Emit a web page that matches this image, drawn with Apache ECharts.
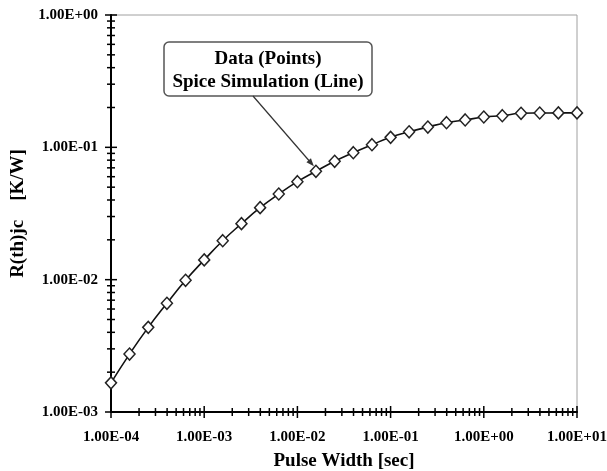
<!DOCTYPE html>
<html>
<head>
<meta charset="utf-8">
<script src="https://cdn.jsdelivr.net/npm/echarts@6/dist/echarts.min.js"></script>
<style>
  html, body { margin: 0; padding: 0; background: #fff; }
  #chart { width: 607px; height: 471px; }
</style>
</head>
<body>
<div id="chart"></div>
<script>
// pulse width [sec], 5 points per decade
const pulseWidth = [
  1.00e-4, 1.58e-4, 2.51e-4, 3.98e-4, 6.31e-4,
  1.00e-3, 1.58e-3, 2.51e-3, 3.98e-3, 6.31e-3,
  1.00e-2, 1.58e-2, 2.51e-2, 3.98e-2, 6.31e-2,
  1.00e-1, 1.58e-1, 2.51e-1, 3.98e-1, 6.31e-1,
  1.00e0, 1.58e0, 2.51e0, 3.98e0, 6.31e0,
  1.00e1
]
// R(th)jc [K/W]
const rthjc = [
  0.00166, 0.00274, 0.00436, 0.00663, 0.00989,
  0.0141, 0.0197, 0.0265, 0.0350, 0.0444,
  0.0550, 0.0659, 0.0784, 0.0911, 0.1047,
  0.119, 0.131, 0.1424, 0.1535, 0.161,
  0.1695, 0.1734, 0.1808, 0.1817, 0.182,
  0.182
]
const xTicks = [1e-4, 1e-3, 1e-2, 1e-1, 1e0, 1e1]
const yTicks = [1e-3, 1e-2, 1e-1, 1e0]
const noteLines = ['Data (Points)', 'Spice Simulation (Line)']
const arrowTarget = 11

const FONT = 'Liberation Serif'

// 1.00E-04 style labels
const sci = (v) => {
  const e = Math.round(Math.log10(v))
  const m = v / Math.pow(10, e)
  return m.toFixed(2) + 'E' + (e < 0 ? '-' : '+') + String(Math.abs(e)).padStart(2, '0')
}

const chart = echarts.init(document.getElementById('chart'))

const option = {
  animation: false,
  grid: {
    left: 111, right: 30, top: 15, bottom: 59,
    outerBoundsMode: 'none', containLabel: false,
    show: true, borderColor: '#a0a0a0', borderWidth: 1
  },
  xAxis: {
    type: 'log', logBase: 10,
    min: xTicks[0], max: xTicks[xTicks.length - 1],
    name: 'Pulse Width [sec]',
    nameLocation: 'middle', nameGap: 40,
    nameTextStyle: { fontFamily: FONT, fontWeight: 'bold', fontSize: 19, color: '#000' },
    axisLine: { lineStyle: { color: '#000', width: 2 } },
    axisTick: { show: false },
    splitLine: { show: false },
    axisLabel: {
      formatter: sci, margin: 18,
      fontFamily: FONT, fontWeight: 'bold', fontSize: 15, color: '#000'
    }
  },
  yAxis: {
    type: 'log', logBase: 10,
    min: yTicks[0], max: yTicks[yTicks.length - 1],
    name: 'R(th)jc    [K/W]',
    nameLocation: 'middle', nameGap: 81, nameRotate: 90,
    nameTextStyle: { fontFamily: FONT, fontWeight: 'bold', fontSize: 19, color: '#000' },
    axisLine: { lineStyle: { color: '#000', width: 2 } },
    axisTick: { show: false },
    splitLine: { show: false },
    axisLabel: {
      formatter: sci, margin: 13,
      fontFamily: FONT, fontWeight: 'bold', fontSize: 15, color: '#000'
    }
  },
  series: [{
    type: 'line',
    data: pulseWidth.map((x, i) => [x, rthjc[i]]),
    smooth: true,
    clip: false,
    symbol: 'diamond',
    symbolSize: [11, 12],
    lineStyle: { color: '#111', width: 1.6 },
    itemStyle: { color: '#fff', borderColor: '#222', borderWidth: 1.5 },
    z: 5
  }]
}
chart.setOption(option)

// ticks crossing the axes (major + 2..9 minor)
const tickGraphics = []
const addTicks = (majors, isX) => {
  const vals = []
  majors.forEach((d, i) => {
    vals.push([d, 6])
    if (i < majors.length - 1) {
      for (let m = 2; m <= 9; m++) vals.push([m * d, 4])
    }
  })
  vals.forEach(([v, len]) => {
    if (isX) {
      const p = chart.convertToPixel({ gridIndex: 0 }, [v, yTicks[0]])
      tickGraphics.push({ type: 'line', shape: { x1: p[0], y1: p[1] - len, x2: p[0], y2: p[1] + len },
        style: { stroke: '#000', lineWidth: 1.5 }, z: 3 })
    } else {
      const p = chart.convertToPixel({ gridIndex: 0 }, [xTicks[0], v])
      tickGraphics.push({ type: 'line', shape: { x1: p[0] - len, y1: p[1], x2: p[0] + len, y2: p[1] },
        style: { stroke: '#000', lineWidth: 1.5 }, z: 3 })
    }
  })
}
addTicks(xTicks, true)
addTicks(yTicks, false)

// note box + arrow
const box = { x: 164, y: 42, w: 208, h: 54 }
const tip = chart.convertToPixel({ seriesIndex: 0 }, [pulseWidth[arrowTarget], rthjc[arrowTarget]])
const start = [253, box.y + box.h]
const end = [tip[0] - 2, tip[1] - 5]
const ang = Math.atan2(end[1] - start[1], end[0] - start[0])
const ah = 8, aw = 3
const head = [
  end,
  [end[0] - ah * Math.cos(ang) + aw * Math.sin(ang), end[1] - ah * Math.sin(ang) - aw * Math.cos(ang)],
  [end[0] - ah * Math.cos(ang) - aw * Math.sin(ang), end[1] - ah * Math.sin(ang) + aw * Math.cos(ang)]
]

const noteGraphics = [
  { type: 'rect', shape: { x: box.x, y: box.y, width: box.w, height: box.h, r: 5 },
    style: { fill: '#fff', stroke: '#555', lineWidth: 1.5 }, z: 10 },
  { type: 'text', x: box.x + box.w / 2, y: box.y + 17, z: 11,
    style: { text: noteLines[0], align: 'center', verticalAlign: 'middle',
      font: 'bold 19px ' + FONT, fill: '#000' } },
  { type: 'text', x: box.x + box.w / 2, y: box.y + 40, z: 11,
    style: { text: noteLines[1], align: 'center', verticalAlign: 'middle',
      font: 'bold 19px ' + FONT, fill: '#000' } },
  { type: 'line', shape: { x1: start[0], y1: start[1], x2: end[0] - 6 * Math.cos(ang), y2: end[1] - 6 * Math.sin(ang) },
    style: { stroke: '#333', lineWidth: 1.2 }, z: 10 },
  { type: 'polygon', shape: { points: head }, style: { fill: '#333' }, z: 10 }
]

chart.setOption({ graphic: tickGraphics.concat(noteGraphics) })
</script>
</body>
</html>
